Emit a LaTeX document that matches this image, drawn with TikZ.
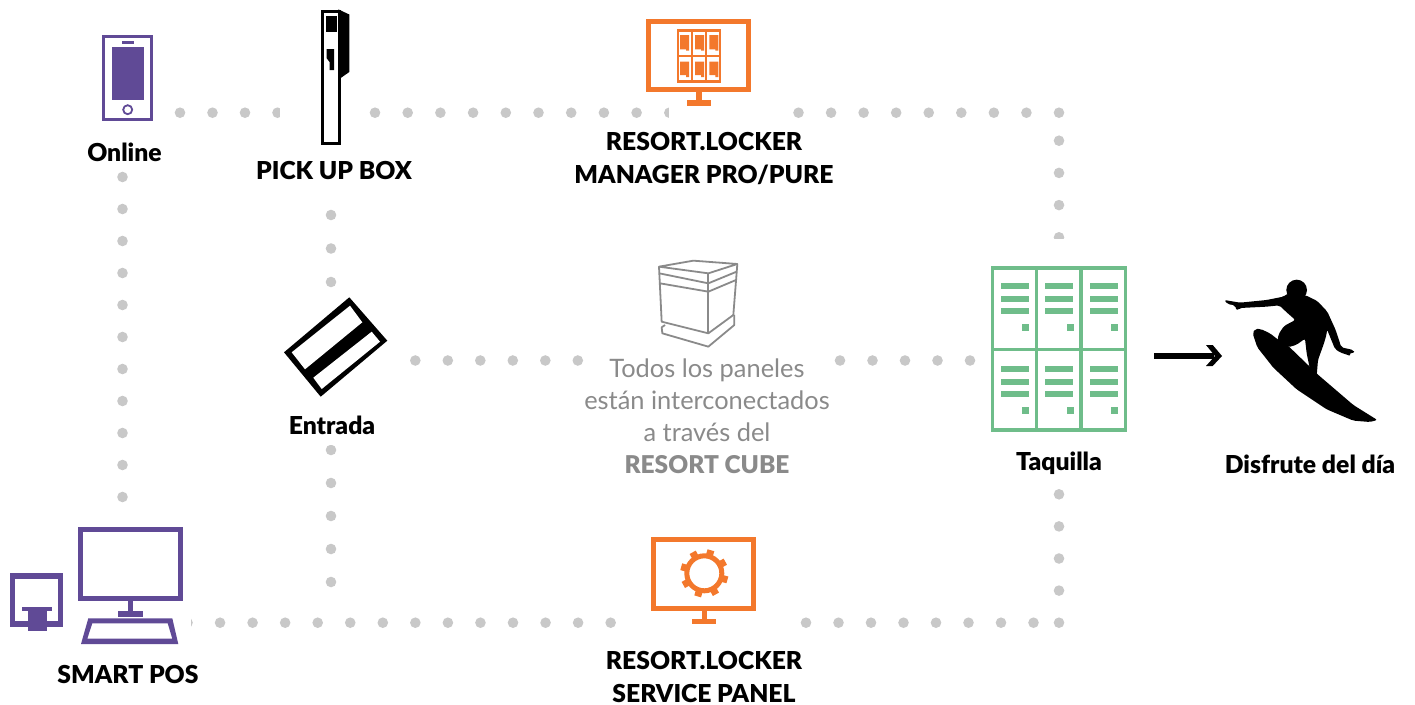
\documentclass[tikz,border=0pt]{standalone}
\usepackage{fontspec}
\usetikzlibrary{calc}
\setmainfont[BoldFont={Lato Black}]{Lato}
\definecolor{purp}{HTML}{604A96}
\definecolor{orng}{HTML}{F3782C}
\definecolor{grn}{HTML}{6FBD8A}
\definecolor{dotc}{HTML}{C8C8C8}
\definecolor{cubec}{HTML}{8A8A8A}
\tikzset{
  dotline/.style={draw=dotc,line width=10.6pt,line cap=round,dash pattern=on 0pt off #1pt},
  maskbox/.style={fill=white,draw=none},
  lab/.style={font=\fontsize{24.7}{32.5}\selectfont\bfseries,text=black,align=center,inner sep=0pt},
  greylab/.style={font=\fontsize{25.4}{32}\selectfont,text=cubec,align=center,inner sep=0pt},
  cubeline/.style={draw=cubec,line width=1.8pt,line join=round},
}
\begin{document}
\begin{tikzpicture}[x=1pt,y=-1pt]
\useasboundingbox (0,0) rectangle (1415,704);
% connector end points
\coordinate (t1a) at (180,112.7);   \coordinate (t1b) at (278.5,112.7);
\coordinate (t2a) at (375,112.7);   \coordinate (t2b) at (670,112.7);
\coordinate (t3a) at (798.5,112.7); \coordinate (t3b) at (1060,112.7);
\coordinate (r1a) at (1059,140.7);  \coordinate (r1b) at (1059,238);
\coordinate (r2a) at (1059,494.3);  \coordinate (r2b) at (1059,624);
\coordinate (b1a) at (187.5,622.7); \coordinate (b1b) at (612,622.7);
\coordinate (b2a) at (806,622.7);   \coordinate (b2b) at (1035,622.7);
\coordinate (l1a) at (122.5,177);   \coordinate (l1b) at (122.5,498);
\coordinate (e1a) at (331,215);     \coordinate (e1b) at (331,283);
\coordinate (e2a) at (331,450);     \coordinate (e2b) at (331,583);
\coordinate (m1a) at (415.3,360.5); \coordinate (m1b) at (579,360.5);
\coordinate (m2a) at (840,360.5);   \coordinate (m2b) at (971,360.5);
\draw[dotline=32.5] (t1a) -- (t1b);
\draw[dotline=32.7] (t2a) -- (t2b);
\draw[dotline=32.56] (t3a) -- (t3b);
\draw[dotline=32.2] (r1a) -- (r1b);
\draw[dotline=32.1] (r2a) -- (r2b);
\draw[dotline=32.55] (b1a) -- (b1b);
\draw[dotline=32.5] (b2a) -- (b2b);
\draw[dotline=32] (l1a) -- (l1b);
\draw[dotline=33.5] (e1a) -- (e1b);
\draw[dotline=33] (e2a) -- (e2b);
\draw[dotline=32.5] (m1a) -- (m1b);
\draw[dotline=32.5] (m2a) -- (m2b);
% masks that cut the partial dots
\fill[maskbox] (280,100) rectangle (300,125);
\fill[maskbox] (668.7,100) rectangle (685,125);
\fill[maskbox] (1050,238.7) rectangle (1070,250);
\fill[maskbox] (178,610) rectangle (191,635);
\fill[maskbox] (320,438) rectangle (342,445);

% phone
\draw[purp,line width=3pt,fill=white] (103.8,36.5) rectangle (151.2,119.5);
\fill[purp] (111.7,47) rectangle (144,100);
\fill[purp] (121.5,41) rectangle (133.5,43.5);
\draw[purp,line width=1.8pt] (127.7,109.7) circle (4.5);

% pick up box
\draw[black,line width=3pt,fill=white] (322.2,11.2) rectangle (339.2,143.8);
\fill[black] (338,9.7) -- (339,9.7) -- (349.3,14.5) -- (349.3,72) -- (340,78.5) -- (338,78.5) -- cycle;
\fill[black] (326,16) rectangle (336.7,32);
\fill[black] (326.5,49) -- (334,49) -- (334,70) -- (329.5,70) -- (329.5,62) -- (326.5,58) -- cycle;

% manager monitor
\draw[orng,line width=5pt] (648.5,21.5) rectangle (748.2,89.8);
\fill[orng] (696,92) rectangle (702,101);
\fill[orng] (686.7,100) rectangle (711,106);
\draw[orng,line width=2.4pt] (677.9,30.5) rectangle (719.8,81.5);
\draw[orng,line width=2.4pt] (691.7,30.5) -- (691.7,81.5) (706,30.5) -- (706,81.5) (677.9,56) -- (719.8,56);
\foreach \cx in {680,695,709.3}{
  \fill[orng] (\cx,35) -- ++(9,0) -- ++(0,15.5) -- ++(-3,0) -- ++(0,-1.2) -- ++(-6,0) -- cycle;
  \fill[orng] (\cx,61.7) -- ++(9,0) -- ++(0,15.5) -- ++(-3,0) -- ++(0,-2.2) -- ++(-6,0) -- cycle;
}

% service monitor
\draw[orng,line width=5pt] (653.5,539.8) rectangle (753.8,608.2);
\fill[orng] (701.7,610) rectangle (707,619);
\fill[orng] (691.7,618.7) rectangle (716.3,624);
\coordinate (gear) at (704.3,573.3);
\draw[orng,line width=5pt] (gear) circle (17.5);
\foreach \a in {-74,-119,-164,-209,-254,-299,-344,-389}
  \draw[orng,line width=7pt] ($(gear)+(\a:17)$) -- ($(gear)+(\a:24)$);

% cube
\begin{scope}[shift={(640,250)},x=.3333pt,y=-.3333pt]
\draw[cubeline] (57,50) -- (160,32) -- (292,42) -- (205,70) -- cycle;
\draw[cubeline] (57,50) -- (65,215) -- (205,250) -- (280,195) -- (292,42);
\draw[cubeline] (205,70) -- (205,250);
\draw[cubeline] (58,70) -- (205,100) -- (290,65);
\draw[cubeline] (60,100) -- (205,125) -- (288,90);
\draw[cubeline] (75,225) -- (65,232) -- (67,250) -- (205,290) -- (283,225) -- (283,195);
\end{scope}

% locker
\draw[grn,line width=3.5pt] (992.4,267.8) rectangle (1125.5,430);
\draw[grn,line width=3.5pt] (1036.7,267) -- (1036.7,431) (1081,267) -- (1081,431);
\draw[grn,line width=2.5pt] (992,349.3) -- (1126,349.3);
\foreach \dy in {0,83}{
  \foreach \cx/\sx in {1001/1022,1045/1067,1090/1111}{
    \fill[grn] (\cx,283+\dy) rectangle (\cx+28,289+\dy);
    \fill[grn] (\cx,296+\dy) rectangle (\cx+28,302+\dy);
    \fill[grn] (\cx,308+\dy) rectangle (\cx+28,314+\dy);
    \fill[grn] (\sx,324+\dy) rectangle (\sx+7,331+\dy);
  }
}

% arrow
\coordinate (aa) at (1154,356);
\coordinate (ab) at (1214,356);
\draw[black,line width=6pt] (aa) -- (ab);
\fill[black] (1206,345) -- (1212.7,345) -- (1222,356) -- (1212.7,366) -- (1206,366) -- (1215,356) -- cycle;

% surfer
\begin{scope}[shift={(1140,270)},x=.3333pt,y=-.3333pt]
\fill[black,rounded corners=2pt] (338,190) -- (345,177) -- (362,177) -- (390,190) -- (418,212) -- (445,228) -- (535,315) -- (640,405) -- (712,450) -- (690,456) -- (640,452) -- (560,418) -- (470,358) -- (400,293) -- (352,232) -- cycle;
\fill[black] (470,60) circle (31);
\fill[black,rounded corners=2pt] (445,70) -- (430,80) -- (380,90) -- (300,98) -- (253,90) -- (262,102) -- (285,106) -- (290,122) -- (300,114) -- (380,110) -- (418,106) -- (440,127) -- (466,150) -- (432,168) -- (416,192) -- (412,214) -- (445,232) -- (470,224) -- (495,206) -- (500,250) -- (510,298) -- (530,318) -- (534,270) -- (552,220) -- (560,192) -- (561,178) -- (585,237) -- (600,247) -- (632,258) -- (628,250) -- (644,248) -- (640,240) -- (604,232) -- (587,180) -- (562,125) -- (532,93) -- (497,76) -- cycle;
\end{scope}

% card
\fill[black] (349.3,297.3) -- (387.3,340.7) -- (320.7,396.7) -- (284,352.3) -- cycle;
\fill[white] (350,305.7) -- (362.3,322.3) -- (305,369.3) -- (291.7,352.3) -- cycle;
\fill[white] (371.7,331.7) -- (380,341.7) -- (321.7,389) -- (313.3,377.7) -- cycle;

% smart pos
\draw[purp,line width=5pt] (80.2,529.8) rectangle (180.2,598.5);
\fill[purp] (127.7,600) rectangle (133.3,612);
\fill[purp] (118,610.7) rectangle (142.7,616.7);
\fill[purp,even odd rule] (88.3,618.3) -- (172.3,618.3) -- (178.3,644) -- (81,644) -- cycle
   (92.3,623.3) -- (167.7,623.3) -- (172.3,638.7) -- (87.3,638.7) -- cycle;
\draw[purp,line width=5.5pt] (12.7,576) rectangle (60.6,624);
\fill[purp] (22.3,607.3) rectangle (51.7,610.7);
\fill[purp] (28,610.7) rectangle (47.3,631);

% labels
\node[lab] (online) at (124.5,152) {Online};
\node[lab] (pickup) at (334,171) {PICK UP BOX};
\node[lab] (manager) at (704,158.5) {RESORT.LOCKER\\MANAGER PRO/PURE};
\node[lab] (entrada) at (332,425) {Entrada};
\node[lab] (taquilla) at (1059,463) {Taquilla};
\node[lab] (disfrute) at (1310,464) {Disfrute del día};
\node[lab] (smart) at (128,674) {SMART POS};
\node[lab] (service) at (704,677) {RESORT.LOCKER\\SERVICE PANEL};
\node[greylab] (todos) at (707,416) {Todos los paneles\\están interconectados\\a través del\\{\fontsize{24.5}{32}\selectfont\bfseries RESORT CUBE}};
\end{tikzpicture}
\end{document}
